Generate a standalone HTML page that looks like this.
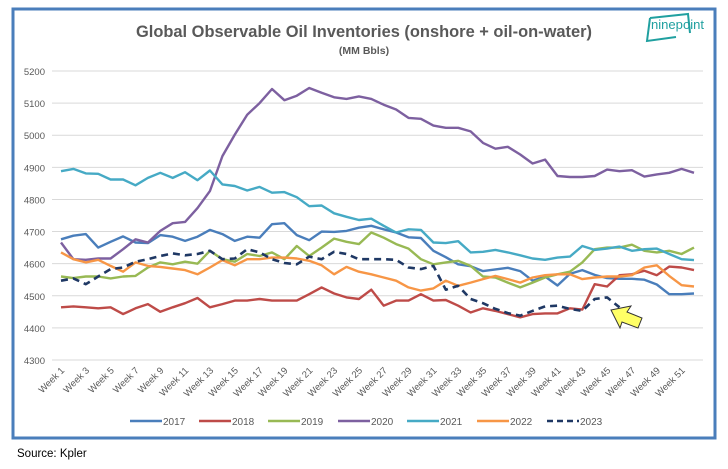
<!DOCTYPE html>
<html><head><meta charset="utf-8">
<style>
body{margin:0;background:#fff;width:728px;height:464px;overflow:hidden;font-family:"Liberation Sans",sans-serif;}
svg text{font-family:"Liberation Sans",sans-serif;}
</style></head>
<body>
<svg id="chart" width="728" height="464" viewBox="0 0 728 464">
  <rect x="13" y="9" width="702" height="429" fill="#fff" stroke="#4a7ebb" stroke-width="3"/>
  <text x="136" y="37" textLength="456" lengthAdjust="spacingAndGlyphs" font-size="17" font-weight="bold" fill="#595959">Global Observable Oil Inventories (onshore + oil-on-water)</text>
  <text x="364" y="54" text-anchor="middle" font-size="10.5" font-weight="bold" fill="#595959">(MM Bbls)</text>
  <g>
    <path d="M650 18 L688 14 L690 33 M650 18 L647 41 L676 37" fill="none" stroke="#20a0a0" stroke-width="2"/>
    <text x="651" y="29" textLength="53" lengthAdjust="spacingAndGlyphs" font-size="13" fill="#20a0a0">ninepoint</text>
  </g>
  <g id="grid"></g>
  <g id="series"></g>
  <g id="xlabels"></g>
  <polygon points="611,310 631,306 627,312 642,318 638,328 622,322 620,328" fill="#ffff66" stroke="#333" stroke-width="1"/>
  <g id="legend"></g>
  <text x="17" y="457" font-size="11.5" fill="#000">Source: Kpler</text>
</svg>
<script>
const weeks = Array.from({length:52},(_,i)=>'Week '+(i+1));
const yTicks = [4300,4400,4500,4600,4700,4800,4900,5000,5100,5200];
const seriesNames = ['2017','2018','2019','2020','2021','2022','2023'];
const seriesColors = ['#4a7ebb','#be4b48','#98b954','#7d60a0','#46aac5','#f79646','#1f3864'];
const s2017 = [4676,4687,4692,4650,4668,4685,4666,4664,4689,4684,4671,4684,4705,4692,4671,4684,4681,4723,4726,4689,4673,4700,4699,4702,4712,4718,4707,4697,4682,4680,4640,4620,4598,4592,4577,4582,4587,4577,4547,4560,4532,4568,4580,4565,4555,4553,4553,4550,4535,4505,4505,4507];
const s2018 = [4464,4467,4464,4461,4464,4443,4461,4474,4450,4464,4477,4493,4464,4474,4485,4485,4490,4485,4485,4485,4505,4526,4507,4495,4490,4519,4469,4485,4485,4505,4485,4487,4469,4448,4461,4453,4443,4433,4443,4445,4445,4461,4457,4536,4529,4564,4567,4578,4564,4591,4588,4580];
const s2019 = [4560,4555,4560,4560,4554,4560,4562,4588,4604,4598,4606,4600,4640,4614,4606,4630,4624,4635,4614,4655,4624,4650,4678,4668,4661,4697,4681,4661,4647,4614,4598,4604,4609,4593,4560,4557,4541,4526,4541,4557,4567,4575,4604,4645,4650,4650,4659,4640,4635,4640,4630,4650];
const s2020 = [4666,4614,4612,4616,4616,4645,4676,4666,4702,4726,4730,4773,4826,4935,5002,5064,5100,5144,5109,5123,5147,5132,5118,5113,5121,5113,5095,5080,5054,5051,5030,5023,5023,5012,4976,4958,4964,4940,4912,4924,4873,4870,4870,4873,4893,4888,4891,4871,4878,4883,4895,4883];
const s2021 = [4888,4895,4881,4880,4862,4862,4844,4867,4883,4867,4885,4860,4890,4847,4842,4828,4839,4821,4823,4807,4779,4781,4757,4746,4736,4740,4718,4697,4707,4705,4666,4664,4670,4635,4637,4643,4635,4626,4616,4612,4619,4622,4655,4643,4647,4653,4640,4645,4647,4630,4614,4611];
const s2022 = [4635,4614,4604,4612,4593,4575,4604,4593,4590,4585,4580,4567,4588,4611,4595,4614,4614,4619,4619,4616,4609,4595,4567,4590,4575,4567,4557,4547,4526,4516,4523,4547,4531,4541,4552,4562,4552,4541,4557,4564,4567,4567,4552,4557,4560,4560,4564,4588,4595,4562,4533,4529];
const s2023 = [4547,4554,4536,4560,4583,4588,4606,4614,4624,4632,4626,4630,4640,4614,4616,4645,4635,4614,4602,4598,4622,4614,4637,4630,4614,4614,4614,4612,4588,4583,4593,4519,4531,4490,4477,4459,4446,4438,4453,4467,4469,4459,4453,4490,4495,4464];
const allSeries = [s2017,s2018,s2019,s2020,s2021,s2022,s2023];

const NS='http://www.w3.org/2000/svg';
const X0=61, X1=694, YMIN=4300, YMAX=5200, PY0=360, PY1=71;
function xPos(i){return X0+(X1-X0)*i/(weeks.length-1);}
function yPos(v){return PY0-(v-YMIN)/(YMAX-YMIN)*(PY0-PY1);}
function mk(tag,attrs,parent){const e=document.createElementNS(NS,tag);for(const k in attrs)e.setAttribute(k,attrs[k]);parent.appendChild(e);return e;}

const grid=document.getElementById('grid');
yTicks.forEach(t=>{
  const l=mk('line',{x1:52,x2:703,y1:yPos(t),y2:yPos(t),stroke:'#d9d9d9','stroke-width':1},grid);
  
  
  const tx=mk('text',{x:45,y:yPos(t)+4,'text-anchor':'end','font-size':'9.5',fill:'#595959'},grid);
  tx.textContent=t;
  
  
});
const xl=document.getElementById('xlabels');
weeks.forEach((w,i)=>{
  if(i%2!==0)return;
  const x=xPos(i)+4, y=371;
  const tx=mk('text',{x:x,y:y,'text-anchor':'end','font-size':'9.5',fill:'#595959',transform:'rotate(-45 '+x+' '+y+')'},xl);
  tx.textContent=w;
  
  
});
const sg=document.getElementById('series');
allSeries.forEach((s,k)=>{
  const pts=s.map((v,i)=>xPos(i).toFixed(1)+','+yPos(v).toFixed(1)).join(' ');
  const attrs={points:pts,fill:'none',stroke:seriesColors[k],'stroke-width':2.4,'stroke-linejoin':'round'};
  if(k===6){attrs['stroke-dasharray']='7,5';attrs['stroke-width']=2.6;}
  const p=mk('polyline',attrs,sg);
  
  
});
const lg=document.getElementById('legend');
const legX=[130,199,268,338,407,477,547];
seriesNames.forEach((n,k)=>{
  const g=mk('g',{},lg);
  
  
  const a={x1:legX[k],x2:legX[k]+32,y1:421,y2:421,stroke:seriesColors[k],'stroke-width':2.4};
  if(k===6)a['stroke-dasharray']='6,4';
  mk('line',a,g);
  const t=mk('text',{x:legX[k]+33,y:425,'font-size':'10',fill:'#595959'},g);
  t.textContent=n;
});
</script>
</body></html>
